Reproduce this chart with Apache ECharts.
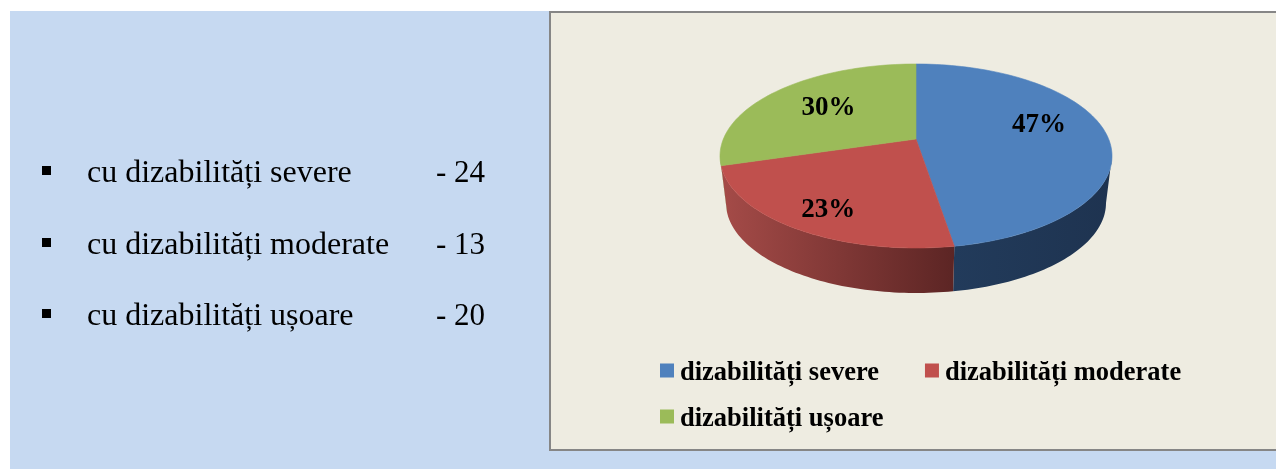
<!DOCTYPE html>
<html>
<head>
<meta charset="utf-8">
<style>html,body{margin:0;padding:0;background:#fff}#c{width:1276px;height:469px}</style>
<script src="https://cdn.jsdelivr.net/npm/echarts@6/dist/echarts.min.js"></script>
</head>
<body>
<div id="c"></div>
<script>
// ---- data ----
const sliceNames = ['dizabilități severe', 'dizabilități moderate', 'dizabilități ușoare'];
const sliceValues = [47.4, 23, 29.6];
const listNames = ['cu dizabilități severe', 'cu dizabilități moderate', 'cu dizabilități ușoare'];
const listCounts = [24, 13, 20];

// ---- styles ----
const topColors = ['#4f81bd', '#c0504d', '#9bbb59'];
const sideColors = [['#223b5b', '#1e3350'], ['#a54b48', '#5c2524'], ['#6f8a3e', '#6f8a3e']];
const serif = '"Liberation Serif","Times New Roman",serif';

// ---- layout of the tilted disc ----
const topE = {cx: 916, cy: 156, rx: 196, ry: 92};
const botE = {cx: 916, cy: 203, rx: 190, ry: 90};
const apexY = 139;
const ecc = (topE.cy - apexY) / topE.ry;
const k = Math.sqrt((1 - ecc) / (1 + ecc));
const labelFrac = [0.65, 0.74, 0.63];
const labelNudge = [[0, -9], [2, 5], [0, -1]];

const rad = d => d * Math.PI / 180;
// true angle (clockwise from top) -> parameter on the foreshortened rim
function rimAngle(t) {
  if (t >= 360) return 360;
  if (t <= 180) return t >= 180 ? 180 : 2 * Math.atan(k * Math.tan(rad(t / 2))) * 180 / Math.PI;
  return 360 - rimAngle(360 - t);
}
const onE = (e, p) => [e.cx + e.rx * Math.sin(rad(p)), e.cy - e.ry * Math.cos(rad(p))];
function rimPts(e, a, b) {
  const n = Math.max(2, Math.ceil(Math.abs(b - a) / 1.5)), out = [];
  for (let i = 0; i <= n; i++) out.push(onE(e, a + (b - a) * i / n));
  return out;
}
const total = sliceValues.reduce((s, v) => s + v, 0);

function sliceRender(idx) {
  return function (params, api) {
    const value = api.value(0);
    let before = 0;
    for (let i = 0; i < idx; i++) before += sliceValues[i];
    const t1 = before / total * 360, t2 = (before + value) / total * 360;
    const p1 = rimAngle(t1), p2 = rimAngle(t2);
    const children = [];
    // visible wall: only the front half of the rim
    const s1 = Math.max(p1, 90), s2 = Math.min(p2, 270);
    if (s2 > s1) {
      const pts = rimPts(topE, s1, s2).concat(rimPts(botE, s2, s1));
      const xs = pts.map(q => q[0]);
      children.push({
        type: 'polygon', shape: {points: pts},
        style: {
          fill: {type: 'linear', global: true,
            x: Math.min.apply(null, xs), y: 0, x2: Math.max.apply(null, xs), y2: 0,
            colorStops: [{offset: 0, color: sideColors[idx][0]}, {offset: 1, color: sideColors[idx][1]}]},
          stroke: null
        }
      });
    }
    // top face
    const apex = [topE.cx, apexY];
    children.push({
      type: 'polygon', shape: {points: [apex].concat(rimPts(topE, p1, p2))},
      style: {fill: topColors[idx], stroke: topColors[idx], lineWidth: 0.6}
    });
    // percentage
    const mid = onE(topE, rimAngle((t1 + t2) / 2));
    const f = labelFrac[idx];
    children.push({
      type: 'text', z2: 10,
      style: {
        x: apex[0] + (mid[0] - apex[0]) * f + labelNudge[idx][0],
        y: apex[1] + (mid[1] - apex[1]) * f + labelNudge[idx][1],
        text: Math.round(value / total * 100) + '%',
        fill: '#000', align: 'center', verticalAlign: 'middle',
        font: 'bold 27px ' + serif
      }
    });
    return {type: 'group', children: children};
  };
}

// ---- left list and panels ----
const listY = [172, 244, 315];
const graphics = [
  {type: 'rect', z: -3, shape: {x: 10, y: 11, width: 1266, height: 458}, style: {fill: '#c6d9f1'}},
  {type: 'rect', z: -2, shape: {x: 549, y: 11, width: 727, height: 440}, style: {fill: '#868686'}},
  {type: 'rect', z: -1, shape: {x: 551, y: 13, width: 725, height: 436}, style: {fill: '#eeece1'}}
];
listNames.forEach((name, i) => {
  graphics.push({type: 'rect', z: 1, shape: {x: 42, y: listY[i] - 6, width: 9, height: 9}, style: {fill: '#000'}});
  graphics.push({type: 'text', z: 1, style: {x: 87, y: listY[i] + 2, text: name, fill: '#000',
    verticalAlign: 'middle', font: '32px ' + serif}});
  graphics.push({type: 'text', z: 1, style: {x: 436, y: listY[i] + 2, text: '- ' + listCounts[i], fill: '#000',
    verticalAlign: 'middle', font: '31px ' + serif}});
});

const legendFont = {fontFamily: serif, fontWeight: 'bold', fontSize: 26.5, color: '#000'};
const legendBase = {
  orient: 'horizontal', icon: 'rect', itemWidth: 14, itemHeight: 14, itemGap: 46,
  left: 660, selectedMode: false, padding: 0,
  formatter: '{a|{name}}',
  textStyle: Object.assign({}, legendFont, {rich: {a: Object.assign({}, legendFont, {padding: [6, 0, 0, 1]})}})
};

const chart = echarts.init(document.getElementById('c'), null, {renderer: 'canvas'});
chart.setOption({
  animation: false,
  backgroundColor: '#ffffff',
  graphic: {elements: graphics},
  legend: [
    Object.assign({}, legendBase, {top: 360, data: [sliceNames[0], sliceNames[1]]}),
    Object.assign({}, legendBase, {top: 406, data: [sliceNames[2]]})
  ],
  series: sliceNames.map((name, i) => ({
    type: 'custom', name: name, coordinateSystem: 'none', silent: true,
    itemStyle: {color: topColors[i]},
    data: [[sliceValues[i]]],
    renderItem: sliceRender(i)
  }))
});
</script>
</body>
</html>
